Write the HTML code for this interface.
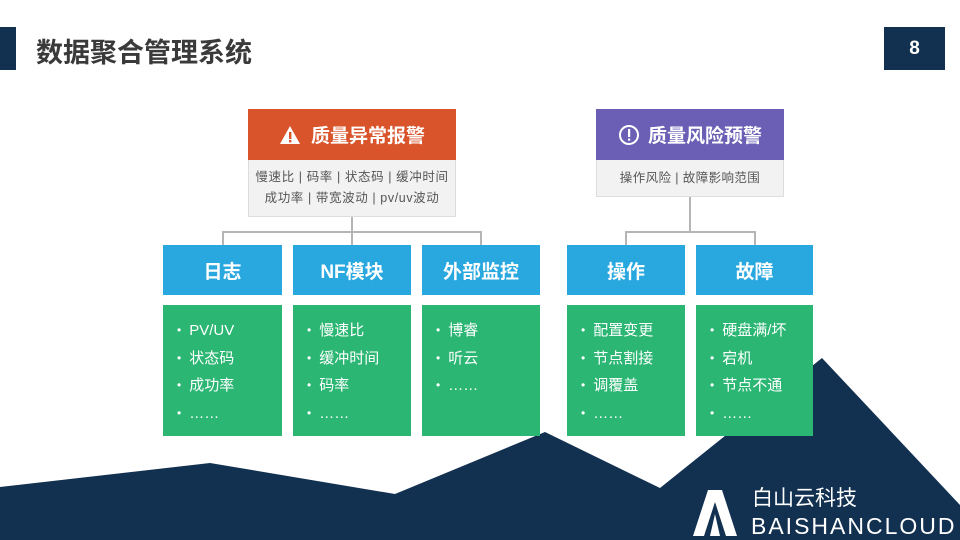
<!DOCTYPE html><html><head><meta charset="utf-8"><style>
*{margin:0;padding:0;box-sizing:border-box}
body{width:960px;height:540px;position:relative;overflow:hidden;background:#fff;font-family:"Liberation Sans","Noto Sans CJK SC",sans-serif}
.a{position:absolute}
.blue{background:#29a8e0;color:#fff;font-size:19px;display:flex;align-items:center;justify-content:center;height:50px;top:245px;font-weight:bold}
.green{background:#2bb673;color:#fff;font-size:15px;top:305px;height:131px;padding:12px 0 0 14px;line-height:27.5px}
.green div:before{content:"•";font-size:12px;margin-right:8px;vertical-align:1px}
.ln{position:absolute;background:#b5b5b5}
</style></head><body>
<svg class="a" style="left:0;top:0" width="960" height="540"><polygon points="0,487 210,463 395,494 545,432 660,488 822,358 960,505 960,540 0,540" fill="#12304f"/></svg>
<div class="a" style="left:0;top:27px;width:16px;height:43px;background:#12304f"></div>
<div class="a" style="left:36px;top:31px;font-size:27px;font-weight:bold;color:#3a3a3a">数据聚合管理系统</div>
<div class="a" style="left:884px;top:27px;width:61px;height:43px;background:#12304f;color:#fff;font-weight:bold;font-size:19px;text-align:center;line-height:43px">8</div>

<div class="a" style="left:248px;top:109px;width:208px;height:51px;background:#d9532b;color:#fff;font-size:19px;font-weight:bold;display:flex;align-items:center;justify-content:center">
<svg width="22" height="20" style="margin-right:10px"><polygon points="11,1 21,19 1,19" fill="#fff"/><rect x="10" y="7" width="2.4" height="7" fill="#d9532b"/><rect x="10" y="15" width="2.4" height="2.4" fill="#d9532b"/></svg>质量异常报警</div>
<div class="a" style="left:248px;top:160px;width:208px;height:57px;background:#f2f2f2;border:1px solid #ddd;border-top:none;color:#555;font-size:12.5px;letter-spacing:0.6px;white-space:nowrap;text-align:center;line-height:21px;padding-top:7px">慢速比 | 码率 | 状态码 | 缓冲时间<br>成功率 | 带宽波动 | pv/uv波动</div>
<div class="a" style="left:596px;top:109px;width:188px;height:51px;background:#6a5fb5;color:#fff;font-size:19px;font-weight:bold;display:flex;align-items:center;justify-content:center">
<svg width="22" height="22" style="margin-right:8px"><circle cx="11" cy="11" r="9" fill="none" stroke="#fff" stroke-width="2"/><rect x="10" y="5" width="2.2" height="8" fill="#fff"/><rect x="10" y="14.5" width="2.2" height="2.2" fill="#fff"/></svg>质量风险预警</div>
<div class="a" style="left:596px;top:160px;width:188px;height:37px;background:#f2f2f2;border:1px solid #ddd;border-top:none;color:#555;font-size:12.5px;letter-spacing:0.4px;text-align:center;line-height:36px">操作风险 | 故障影响范围</div>

<div class="ln" style="left:351px;top:217px;width:2px;height:16px"></div>
<div class="ln" style="left:222px;top:231px;width:260px;height:2px"></div>
<div class="ln" style="left:222px;top:231px;width:2px;height:14px"></div>
<div class="ln" style="left:351px;top:231px;width:2px;height:14px"></div>
<div class="ln" style="left:480px;top:231px;width:2px;height:14px"></div>
<div class="ln" style="left:689px;top:197px;width:2px;height:36px"></div>
<div class="ln" style="left:625px;top:231px;width:131px;height:2px"></div>
<div class="ln" style="left:625px;top:231px;width:2px;height:14px"></div>
<div class="ln" style="left:754px;top:231px;width:2px;height:14px"></div>

<div class="a blue" style="left:163px;width:119px">日志</div>
<div class="a blue" style="left:293px;width:118px">NF模块</div>
<div class="a blue" style="left:422px;width:118px">外部监控</div>
<div class="a blue" style="left:567px;width:118px">操作</div>
<div class="a blue" style="left:696px;width:117px">故障</div>

<div class="a green" style="left:163px;width:119px"><div>PV/UV</div><div>状态码</div><div>成功率</div><div>……</div></div>
<div class="a green" style="left:293px;width:118px"><div>慢速比</div><div>缓冲时间</div><div>码率</div><div>……</div></div>
<div class="a green" style="left:422px;width:118px"><div>博睿</div><div>听云</div><div>……</div></div>
<div class="a green" style="left:567px;width:118px"><div>配置变更</div><div>节点割接</div><div>调覆盖</div><div>……</div></div>
<div class="a green" style="left:696px;width:117px"><div>硬盘满/坏</div><div>宕机</div><div>节点不通</div><div>……</div></div>

<svg class="a" style="left:693px;top:490px" width="44" height="46"><polygon points="15,0 29,0 44,46 33,46 22,12 11,46 0,46" fill="#fff"/><polygon points="22,24 27,46 17,46" fill="#fff"/></svg>
<div class="a" style="left:752px;top:486px;color:#fff;font-size:21px;line-height:26px">白山云科技</div>
<div class="a" style="left:751px;top:513px;color:#fff;font-size:23px;line-height:26px;letter-spacing:2px">BAISHANCLOUD</div>
</body></html>
